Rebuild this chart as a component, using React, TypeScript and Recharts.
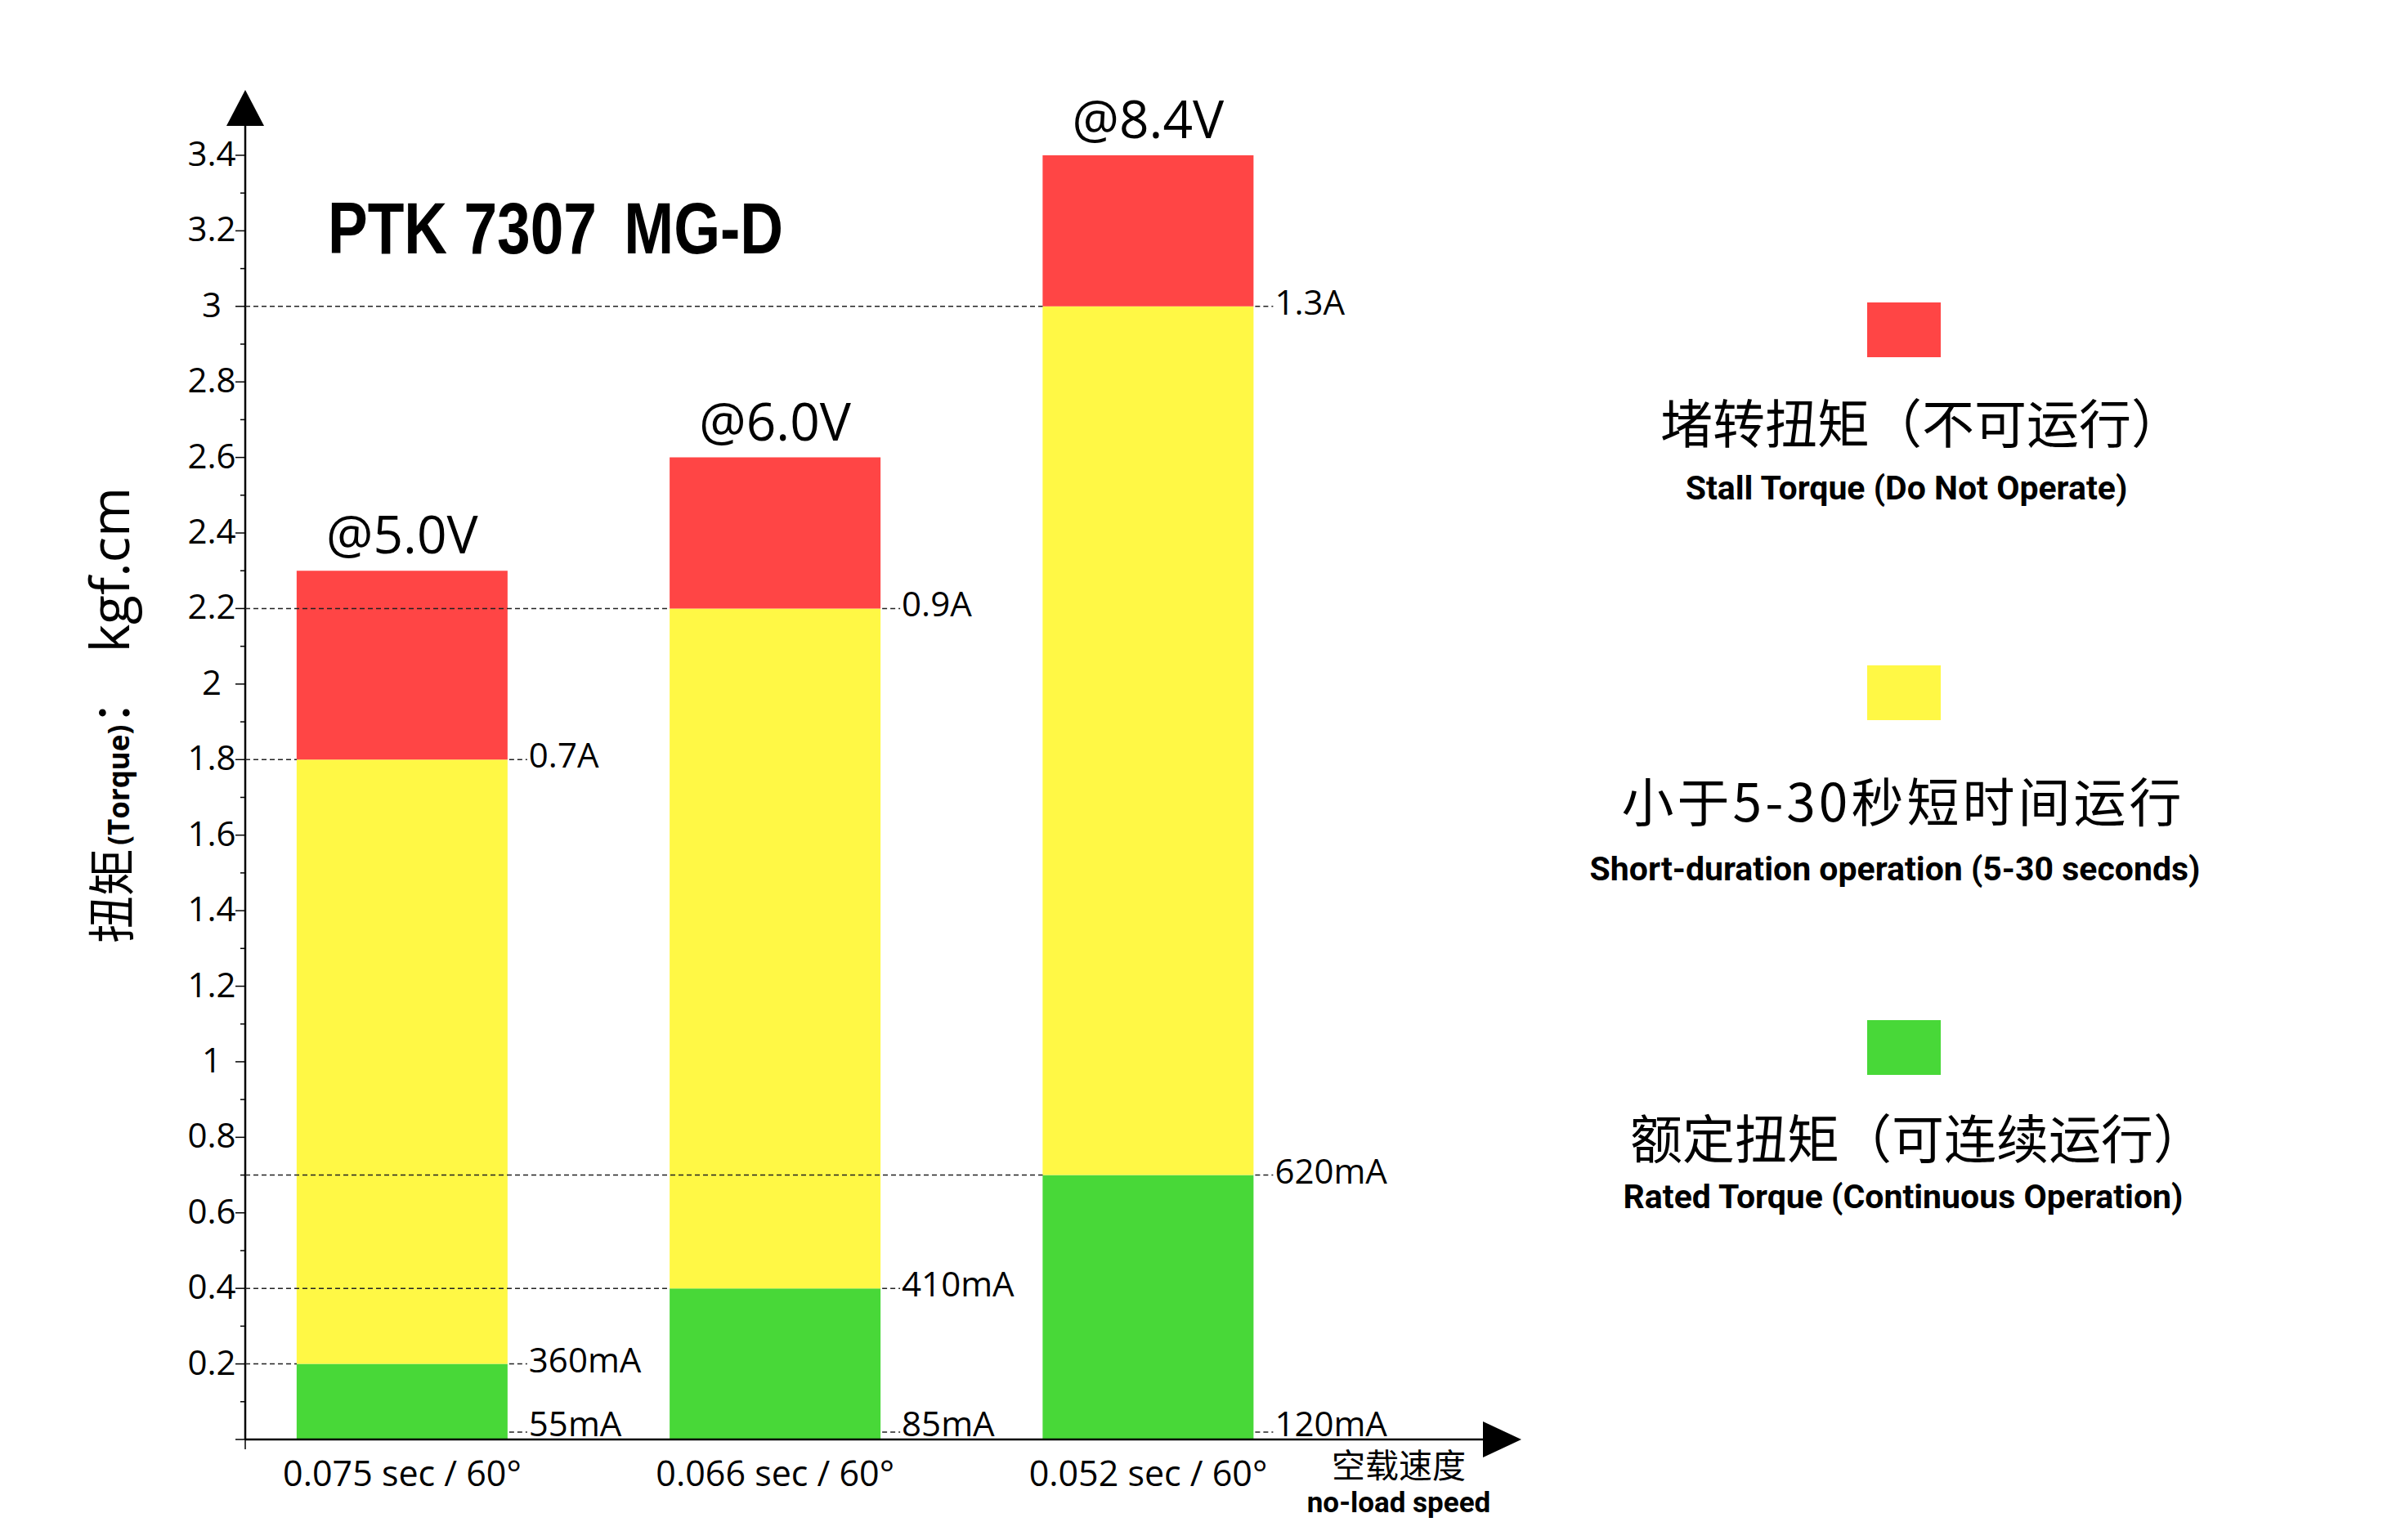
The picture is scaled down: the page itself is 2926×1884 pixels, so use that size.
import React from "react";
import {
  BarChart, Bar, XAxis, YAxis, ReferenceLine, ReferenceDot,
  LabelList, Legend, Customized,
} from "recharts";

// values
const SPEEDS = ["0.075 sec / 60°", "0.066 sec / 60°", "0.052 sec / 60°"];
const VOLTAGES = ["@5.0V", "@6.0V", "@8.4V"];
const RATED_TORQUE = [0.2, 0.4, 0.7];
const SHORT_TORQUE = [1.8, 2.2, 3.0];
const STALL_TORQUE = [2.3, 2.6, 3.4];
const NO_LOAD_CURRENT = ["55mA", "85mA", "120mA"];
const RATED_CURRENT = ["360mA", "410mA", "620mA"];
const SHORT_CURRENT = ["0.7A", "0.9A", "1.3A"];
const Y_TICKS = [
  0, 0.1, 0.2, 0.3, 0.4, 0.5, 0.6, 0.7, 0.8, 0.9, 1, 1.1, 1.2, 1.3, 1.4, 1.5, 1.6,
  1.7, 1.8, 1.9, 2, 2.1, 2.2, 2.3, 2.4, 2.5, 2.6, 2.7, 2.8, 2.9, 3, 3.1, 3.2, 3.3, 3.4,
];

const SERIES = [
  { key: "rated", zh: "额定扭矩（可连续运行）", en: "Rated Torque (Continuous Operation)", color: "#48D838" },
  { key: "short", zh: "小于5-30秒短时间运行", en: "Short-duration operation (5-30 seconds)", color: "#FFF845" },
  { key: "stall", zh: "堵转扭矩（不可运行）", en: "Stall Torque (Do Not Operate)", color: "#FF4545" },
];

const data = SPEEDS.map((speed, i) => ({
  idx: i,
  speed,
  rated: RATED_TORQUE[i],
  short: SHORT_TORQUE[i] - RATED_TORQUE[i],
  stall: STALL_TORQUE[i] - SHORT_TORQUE[i],
}));

// layout
const W = 2926;
const H = 1884;
const PLOT_LEFT = 300;
const PLOT_RIGHT = 1815;
const PLOT_TOP = 153;
const PLOT_BOTTOM = 1761;
const Y_AXIS_W = 60;
const X_AXIS_H = 60;
const X_DOMAIN: [number, number] = [-0.4208, 2.8997];
const Y_DOMAIN: [number, number] = [0, 3.48];
const BAR_SIZE = 258;
const BAR_HALF = BAR_SIZE / 2 / ((PLOT_RIGHT - PLOT_LEFT) / (X_DOMAIN[1] - X_DOMAIN[0]));

const LATIN = "'Open Sans', 'Noto Sans CJK SC', sans-serif";
const CJK = "'Noto Sans CJK SC', 'Open Sans', sans-serif";
const BOLD = "Roboto, 'Noto Sans', sans-serif";
const DASH = "6 4";

// legend block positions (square top, text centres)
const LEGEND_POS: Record<string, { top: number; zh: number; zhX: number; en: number; enX: number; spacing: number }> = {
  stall: { top: 370, zh: 514, zhX: 2351, en: 597, enX: 2332, spacing: 0 },
  short: { top: 814, zh: 977, zhX: 2328, en: 1063, enX: 2318, spacing: 4 },
  rated: { top: 1248, zh: 1389, zhX: 2346, en: 1464, enX: 2328, spacing: 0 },
};

function box(props: any) {
  const vb = props.viewBox ?? props;
  return { x: vb.x, y: vb.y, width: vb.width, height: vb.height, index: props.index };
}

function currentLabel(texts: string[], atBottom = false) {
  return (props: any) => {
    const { x, y, width, height, index } = box(props);
    const right = x + width;
    const ly = atBottom ? y + height - 9 : y;
    const ty = atBottom ? y + height - 4 : y + 10;
    return (
      <g>
        <line x1={right + 2} x2={right + 24} y1={ly} y2={ly} stroke="#222" strokeWidth={1.5} strokeDasharray={DASH} />
        <text x={right + 26} y={ty} fontSize={42} fontFamily={LATIN} fill="#000">
          {texts[index]}
        </text>
      </g>
    );
  };
}

const voltageLabel = (props: any) => {
  const { x, y, width, index } = box(props);
  return (
    <text x={x + width / 2} y={y - 21} textAnchor="middle" fontSize={64} fontFamily={LATIN} fill="#000">
      {VOLTAGES[index]}
    </text>
  );
};

const YTick = (props: any) => {
  const { y, index, payload } = props;
  const major = index % 2 === 0;
  return (
    <g>
      <line x1={PLOT_LEFT - (major ? 12 : 6)} x2={PLOT_LEFT} y1={y} y2={y} stroke="#000" strokeWidth={1.5} />
      {major && payload.value !== 0 && (
        <text x={259} y={y + 13} textAnchor="middle" fontSize={42} fontFamily={LATIN} fill="#000">
          {String(payload.value)}
        </text>
      )}
    </g>
  );
};

const XTick = (props: any) => {
  const { x, payload } = props;
  if (payload.value === X_DOMAIN[0]) {
    return <line x1={x} x2={x} y1={PLOT_BOTTOM} y2={PLOT_BOTTOM + 12} stroke="#000" strokeWidth={1.5} />;
  }
  return (
    <text x={x} y={PLOT_BOTTOM + 57} textAnchor="middle" fontSize={43} fontFamily={LATIN} fill="#000">
      {SPEEDS[payload.value]}
    </text>
  );
};

const YLabel = () => (
  <text x={158} y={1154} transform="rotate(-90 158 1154)" fill="#000">
    <tspan fontFamily={CJK} fontSize={58}>扭矩</tspan>
    <tspan fontFamily={LATIN} fontSize={35} fontWeight={700} dx={4}>(Torque)</tspan>
    <tspan fontFamily={CJK} fontSize={58}>：</tspan>
    <tspan fontFamily={LATIN} fontSize={66} dx={30}>kgf.cm</tspan>
  </text>
);

const XLabel = () => (
  <g>
    <text x={1711} y={1808} textAnchor="middle" fontSize={41} fontFamily={CJK} fill="#000">空载速度</text>
    <text x={1711} y={1850} textAnchor="middle" fontSize={35} fontWeight={700} fontFamily={BOLD} fill="#000">
      no-load speed
    </text>
  </g>
);

// condensed bold title
const Title = () => (
  <g transform="translate(401 310) scale(0.821 1)">
    <text
      x={0}
      y={0}
      fontSize={89}
      fontWeight={700}
      fontFamily="'Liberation Sans', Arial, sans-serif"
      fill="#000"
    >
      PTK 7307<tspan dx={16}> MG-D</tspan>
    </text>
  </g>
);

const renderLegend = (props: any) => {
  const payload: any[] = props.payload ?? [];
  return (
    <div style={{ position: "relative", width: W, height: H }}>
      {payload.map((entry) => {
        const s = SERIES.find((d) => d.zh === entry.value);
        if (!s) return null;
        const pos = LEGEND_POS[s.key];
        return (
          <React.Fragment key={s.key}>
            <div style={{ position: "absolute", left: 2284, top: pos.top, width: 90, height: 67, background: entry.color }} />
            <div
              style={{
                position: "absolute", left: pos.zhX - 450, width: 900, top: pos.zh - 40, height: 80,
                lineHeight: "80px", textAlign: "center", fontFamily: CJK, fontSize: 64, color: "#000",
                whiteSpace: "nowrap", letterSpacing: pos.spacing,
              }}
            >
              {s.zh}
            </div>
            <div
              style={{
                position: "absolute", left: pos.enX - 450, width: 900, top: pos.en - 25, height: 50,
                lineHeight: "50px", textAlign: "center", fontFamily: BOLD, fontWeight: 700, fontSize: 41,
                color: "#000", whiteSpace: "nowrap",
              }}
            >
              {s.en}
            </div>
          </React.Fragment>
        );
      })}
    </div>
  );
};

const upArrow = (props: any) => {
  const { cx, cy } = props;
  return <polygon points={`${cx - 23},${cy + 1} ${cx + 23},${cy + 1} ${cx},${cy - 43}`} fill="#000" />;
};

const rightArrow = (props: any) => {
  const { cx, cy } = props;
  return <polygon points={`${cx - 1},${cy - 22} ${cx - 1},${cy + 22} ${cx + 46},${cy}`} fill="#000" />;
};

export default function App() {
  return (
    <div style={{ position: "absolute", left: 0, top: 0, width: W, height: H, background: "#fff" }}>
      <BarChart
        width={W}
        height={H}
        data={data}
        margin={{
          top: PLOT_TOP,
          right: W - PLOT_RIGHT,
          bottom: H - PLOT_BOTTOM - X_AXIS_H,
          left: PLOT_LEFT - Y_AXIS_W,
        }}
      >
        <XAxis
          type="number"
          dataKey="idx"
          domain={X_DOMAIN}
          ticks={[X_DOMAIN[0], ...SPEEDS.map((_, i) => i)]}
          interval={0}
          allowDataOverflow
          height={X_AXIS_H}
          axisLine={{ stroke: "#000", strokeWidth: 2.5 }}
          tickLine={false}
          tick={<XTick />}
          label={<XLabel />}
        />
        <YAxis
          type="number"
          domain={Y_DOMAIN}
          ticks={Y_TICKS}
          interval={0}
          allowDataOverflow
          width={Y_AXIS_W}
          axisLine={{ stroke: "#000", strokeWidth: 2.5 }}
          tickLine={false}
          tick={<YTick />}
          label={<YLabel />}
        />
        <Legend
          layout="vertical"
          align="center"
          verticalAlign="middle"
          content={renderLegend}
          wrapperStyle={{ position: "absolute", left: 0, top: 0, width: W, height: H, pointerEvents: "none" }}
        />
        <Bar dataKey="rated" name={SERIES[0].zh} stackId="t" fill={SERIES[0].color} barSize={BAR_SIZE} isAnimationActive={false}>
          <LabelList dataKey="rated" content={currentLabel(RATED_CURRENT)} />
          <LabelList dataKey="rated" content={currentLabel(NO_LOAD_CURRENT, true)} />
        </Bar>
        <Bar dataKey="short" name={SERIES[1].zh} stackId="t" fill={SERIES[1].color} barSize={BAR_SIZE} isAnimationActive={false}>
          <LabelList dataKey="short" content={currentLabel(SHORT_CURRENT)} />
        </Bar>
        <Bar dataKey="stall" name={SERIES[2].zh} stackId="t" fill={SERIES[2].color} barSize={BAR_SIZE} isAnimationActive={false}>
          <LabelList dataKey="stall" content={voltageLabel} />
        </Bar>
        {[...RATED_TORQUE, ...SHORT_TORQUE].map((v, k) => {
          const i = k % SPEEDS.length;
          return (
            <ReferenceLine
              key={`g${k}`}
              segment={[{ x: X_DOMAIN[0], y: v }, { x: i - BAR_HALF, y: v }]}
              stroke="#222"
              strokeWidth={1.5}
              strokeDasharray={DASH}
              ifOverflow="visible"
              zIndex={1500}
            />
          );
        })}
        <ReferenceDot x={X_DOMAIN[0]} y={Y_DOMAIN[1]} shape={upArrow} ifOverflow="visible" />
        <ReferenceDot x={X_DOMAIN[1]} y={0} shape={rightArrow} ifOverflow="visible" />
        <Customized component={Title} />
      </BarChart>
    </div>
  );
}
